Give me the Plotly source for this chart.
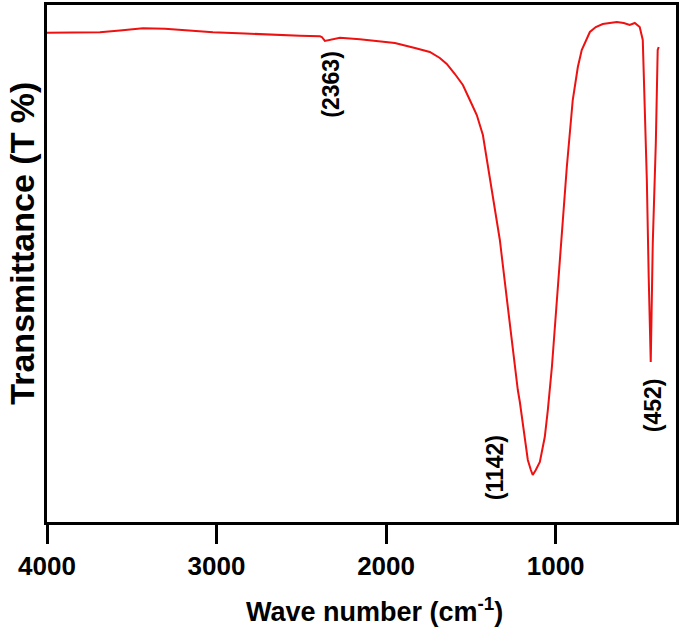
import plotly.graph_objects as go

# FTIR spectrum (wavenumber in cm^-1, transmittance in arbitrary %)
wavenumber = [4000, 3864, 3688, 3570, 3434, 3304, 3157, 3021, 2833, 2668, 2508, 2390,
              2379, 2361, 2337, 2314, 2272, 2155, 2037, 1948, 1830, 1742, 1683, 1642,
              1594, 1547, 1506, 1465, 1429, 1388, 1329, 1282, 1253, 1223, 1211, 1193,
              1164, 1146, 1135, 1117, 1093, 1064, 1046, 1022, 993, 964, 934, 899,
              869, 846, 822, 798, 763, 722, 681, 639, 598, 563, 533, 504,
              486, 474, 462, 451, 439, 427, 409, 398, 392]
transmittance = [94.64, 94.68, 94.72, 95.07, 95.49, 95.40, 95.07, 94.72, 94.49, 94.20, 94.04, 93.94,
                 93.81, 93.04, 93.23, 93.42, 93.66, 93.37, 93.04, 92.65, 91.68, 90.91, 89.75, 88.59,
                 86.65, 84.53, 81.62, 78.72, 74.85, 66.15, 54.55, 41.59, 33.27, 25.53, 23.21, 18.76,
                 11.99, 10.06, 9.09, 10.06, 11.61, 16.44, 21.66, 29.98, 42.94, 55.90, 68.67, 81.62,
                 88.01, 91.30, 93.23, 94.78, 95.74, 96.32, 96.52, 96.71, 96.52, 96.13, 96.52, 95.74,
                 93.23, 81.62, 66.15, 47.39, 30.95, 53.97, 73.31, 91.30, 91.88]

x_ticks = [4000, 3000, 2000, 1000]
x_tick_labels = ["4000", "3000", "2000", "1000"]

peak_labels = ["(2363)", "(1142)", "(452)"]
peak_x = [2363, 1142, 452]
peak_label_y = [84.5, 10.5, 22.5]
peak_label_shift = [7, -37, 4]

FONT = "Liberation Sans, Arial, sans-serif"

fig = go.Figure()
fig.add_trace(go.Scatter(
    x=wavenumber, y=transmittance, mode="lines",
    line=dict(color="#ee1111", width=2), showlegend=False,
))

for lab, px, py, sh in zip(peak_labels, peak_x, peak_label_y, peak_label_shift):
    fig.add_annotation(x=px, y=py, xref="x", yref="y", text=lab, showarrow=False,
                       textangle=-90, xshift=sh,
                       font=dict(family=FONT, size=23, color="black", weight="bold"))

fig.add_annotation(x=0.521, y=-0.17, xref="paper", yref="paper",
                   text="Wave number (cm<sup>-1</sup>)", showarrow=False,
                   xanchor="center", yanchor="middle",
                   font=dict(family=FONT, size=27, color="black", weight="bold"))
fig.add_annotation(x=-0.040, y=0.54, xref="paper", yref="paper",
                   text="Transmittance (T %)", showarrow=False, textangle=-90,
                   xanchor="center", yanchor="middle",
                   font=dict(family=FONT, size=34, color="black", weight="bold"))

fig.update_layout(
    width=685, height=629,
    margin=dict(l=47, r=9, t=5, b=107, autoexpand=False),
    paper_bgcolor="white", plot_bgcolor="white",
    xaxis=dict(range=[4000, 290], tickmode="array", tickvals=x_ticks, ticktext=x_tick_labels,
               ticks="outside", ticklen=19, tickwidth=3, tickcolor="black",
               showline=True, linewidth=3, linecolor="black", mirror=True,
               showgrid=False, zeroline=False, automargin=False,
               tickfont=dict(family=FONT, size=26, color="black", weight="bold")),
    yaxis=dict(range=[0, 100], showticklabels=False, ticks="",
               showline=True, linewidth=3, linecolor="black", mirror=True,
               showgrid=False, zeroline=False, automargin=False),
)

fig.write_html("out.html", config={"displayModeBar": False},
               post_script="document.body.style.margin='0px';document.body.style.padding='0px';")
